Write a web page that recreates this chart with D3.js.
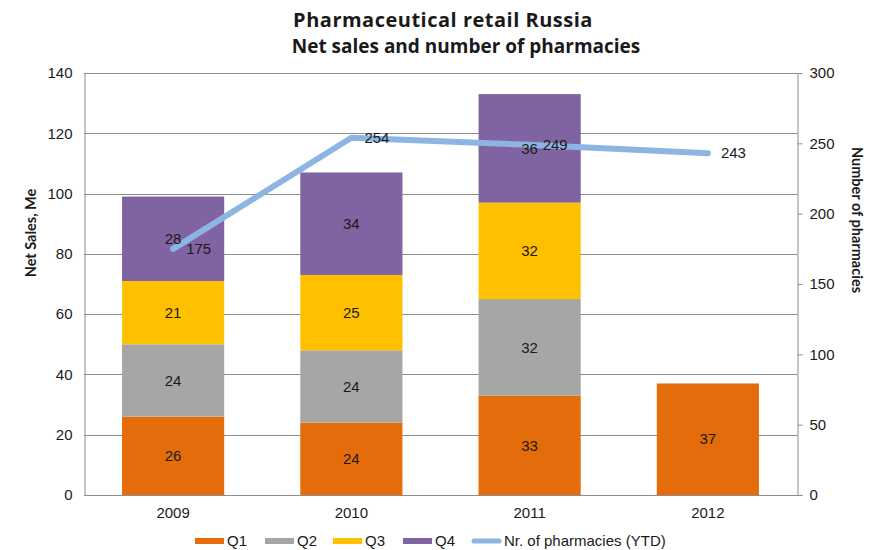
<!DOCTYPE html>
<html>
<head>
<meta charset="utf-8">
<script src="https://cdn.jsdelivr.net/npm/d3@7"></script>
<style>
  body { margin: 0; background: #fff; }
  svg { display: block; }
  text { font-family: "Liberation Sans", Arial, sans-serif; fill: #1a1a1a; }
  .title { font-family: "Open Sans", "Noto Sans", sans-serif; font-weight: 700; }
  .axis-title { font-family: Lato, "Open Sans", sans-serif; font-weight: 700; font-size: 14.5px; }
</style>
</head>
<body>
<svg id="chart" width="874" height="550"></svg>
<script>
// Net sales by quarter (M€) and pharmacy count, per year
const years = ["2009", "2010", "2011", "2012"];
const quarters = ["Q1", "Q2", "Q3", "Q4"];
const q1 = [26, 24, 33, 37];
const q2 = [24, 24, 32, null];
const q3 = [21, 25, 32, null];
const q4 = [28, 34, 36, null];
const pharmacies = [175, 254, 249, 243];
const salesTicks = [0, 20, 40, 60, 80, 100, 120, 140];
const pharmacyTicks = [0, 50, 100, 150, 200, 250, 300];

const colors = { Q1: "#E46C0A", Q2: "#A6A6A6", Q3: "#FFC000", Q4: "#8064A2" };
const lineColor = "#8DB4E2";
const FS = 15;

const svg = d3.select("#chart");
const m = { left: 84, right: 77, top: 73, bottom: 55 };
const W = 874, H = 550;
const x0 = m.left, x1 = W - m.right, yTop = m.top, yBot = H - m.bottom;

const x = d3.scaleBand().domain(years).range([x0, x1])
  .paddingInner(0.427).paddingOuter(0.2135);
const yL = d3.scaleLinear().domain([0, 140]).range([yBot, yTop]);
const yR = d3.scaleLinear().domain([0, 300]).range([yBot, yTop]);

// Title
svg.append("text").attr("class", "title").attr("x", 443).attr("y", 27)
  .attr("font-size", 20).attr("letter-spacing", 0.5)
  .attr("text-anchor", "middle").text("Pharmaceutical retail Russia");
svg.append("text").attr("class", "title").attr("x", 466).attr("y", 53)
  .attr("font-size", 19)
  .attr("text-anchor", "middle").text("Net sales and number of pharmacies");

// Gridlines
svg.append("g").selectAll("line").data(salesTicks.filter(d => d > 0)).join("line")
  .attr("x1", x0).attr("x2", x1)
  .attr("y1", d => Math.round(yL(d)) + 0.5).attr("y2", d => Math.round(yL(d)) + 0.5)
  .attr("stroke", "#8c8c8c").attr("stroke-width", 1);

const styleTicks = g => g.selectAll("text")
  .attr("font-size", FS).attr("font-family", "Liberation Sans, Arial, sans-serif").attr("fill", "#1a1a1a");

// Left axis
const axL = svg.append("g").attr("transform", `translate(${x0 + 0.5},0)`)
  .call(d3.axisLeft(yL).tickValues(salesTicks).tickSize(0).tickPadding(12));
axL.select(".domain").attr("stroke", "#8c8c8c");
styleTicks(axL);

// Right axis
const axR = svg.append("g").attr("transform", `translate(${x1 + 0.5},0)`)
  .call(d3.axisRight(yR).tickValues(pharmacyTicks).tickSize(5).tickPadding(7));
axR.select(".domain").attr("stroke", "#8c8c8c");
axR.selectAll("line").attr("stroke", "#8c8c8c");
styleTicks(axR);

// Stacked bars
const rows = years.map((yr, i) => ({ year: yr, Q1: q1[i], Q2: q2[i], Q3: q3[i], Q4: q4[i] }));
const stack = d3.stack().keys(quarters).value((d, k) => d[k] || 0)(rows);
const barG = svg.append("g");
stack.forEach(layer => {
  const k = layer.key;
  layer.forEach((seg, i) => {
    const v = rows[i][k];
    if (v == null) return;
    barG.append("rect")
      .attr("x", x(rows[i].year)).attr("width", x.bandwidth())
      .attr("y", yL(seg[1])).attr("height", yL(seg[0]) - yL(seg[1]))
      .attr("fill", colors[k]);
  });
});

// Bottom axis
const axB = svg.append("g").attr("transform", `translate(0,${yBot + 0.5})`)
  .call(d3.axisBottom(x).tickSize(0).tickPadding(12));
axB.select(".domain").attr("stroke", "#8c8c8c").attr("d", `M${x0},0H${x1 + 1}`);
styleTicks(axB);

// Pharmacy count line
const cx = d => x(d) + x.bandwidth() / 2;
svg.append("path")
  .datum(pharmacies)
  .attr("fill", "none").attr("stroke", lineColor).attr("stroke-width", 6)
  .attr("stroke-linecap", "round").attr("stroke-linejoin", "round")
  .attr("d", d3.line().x((d, i) => cx(years[i])).y(d => yR(d)));

// Segment labels (on top of the line)
stack.forEach(layer => {
  const k = layer.key;
  layer.forEach((seg, i) => {
    const v = rows[i][k];
    if (v == null) return;
    svg.append("text")
      .attr("x", x(rows[i].year) + x.bandwidth() / 2)
      .attr("y", yL((seg[0] + seg[1]) / 2))
      .attr("dy", "0.35em").attr("text-anchor", "middle")
      .attr("font-size", FS).text(v);
  });
});

// Line point labels
svg.append("g").selectAll("text").data(pharmacies).join("text")
  .attr("x", (d, i) => cx(years[i]) + 13)
  .attr("y", d => yR(d)).attr("dy", "0.35em")
  .attr("font-size", FS).text(d => d);

// Axis titles
svg.append("text").attr("class", "axis-title")
  .attr("transform", "translate(36,233) rotate(-90)")
  .attr("text-anchor", "middle").text("Net Sales, Me");
svg.append("text").attr("class", "axis-title")
  .attr("transform", "translate(852,220) rotate(90)")
  .attr("text-anchor", "middle").text("Number of pharmacies");

// Legend
const legend = [
  { label: "Q1", color: colors.Q1, type: "bar", x: 195 },
  { label: "Q2", color: colors.Q2, type: "bar", x: 265 },
  { label: "Q3", color: colors.Q3, type: "bar", x: 333 },
  { label: "Q4", color: colors.Q4, type: "bar", x: 403 },
  { label: "Nr. of pharmacies (YTD)", color: lineColor, type: "line", x: 472 }
];
const lg = svg.append("g").attr("transform", "translate(0,541)");
legend.forEach(l => {
  if (l.type === "bar") {
    lg.append("rect").attr("x", l.x).attr("y", -3).attr("width", 29).attr("height", 6).attr("fill", l.color);
  } else {
    lg.append("line").attr("x1", l.x + 2).attr("x2", l.x + 27).attr("y1", 0).attr("y2", 0)
      .attr("stroke", l.color).attr("stroke-width", 5).attr("stroke-linecap", "round");
  }
  lg.append("text").attr("x", l.x + 32).attr("y", 0).attr("dy", "0.35em")
    .attr("font-size", FS).text(l.label);
});
</script>
</body>
</html>
